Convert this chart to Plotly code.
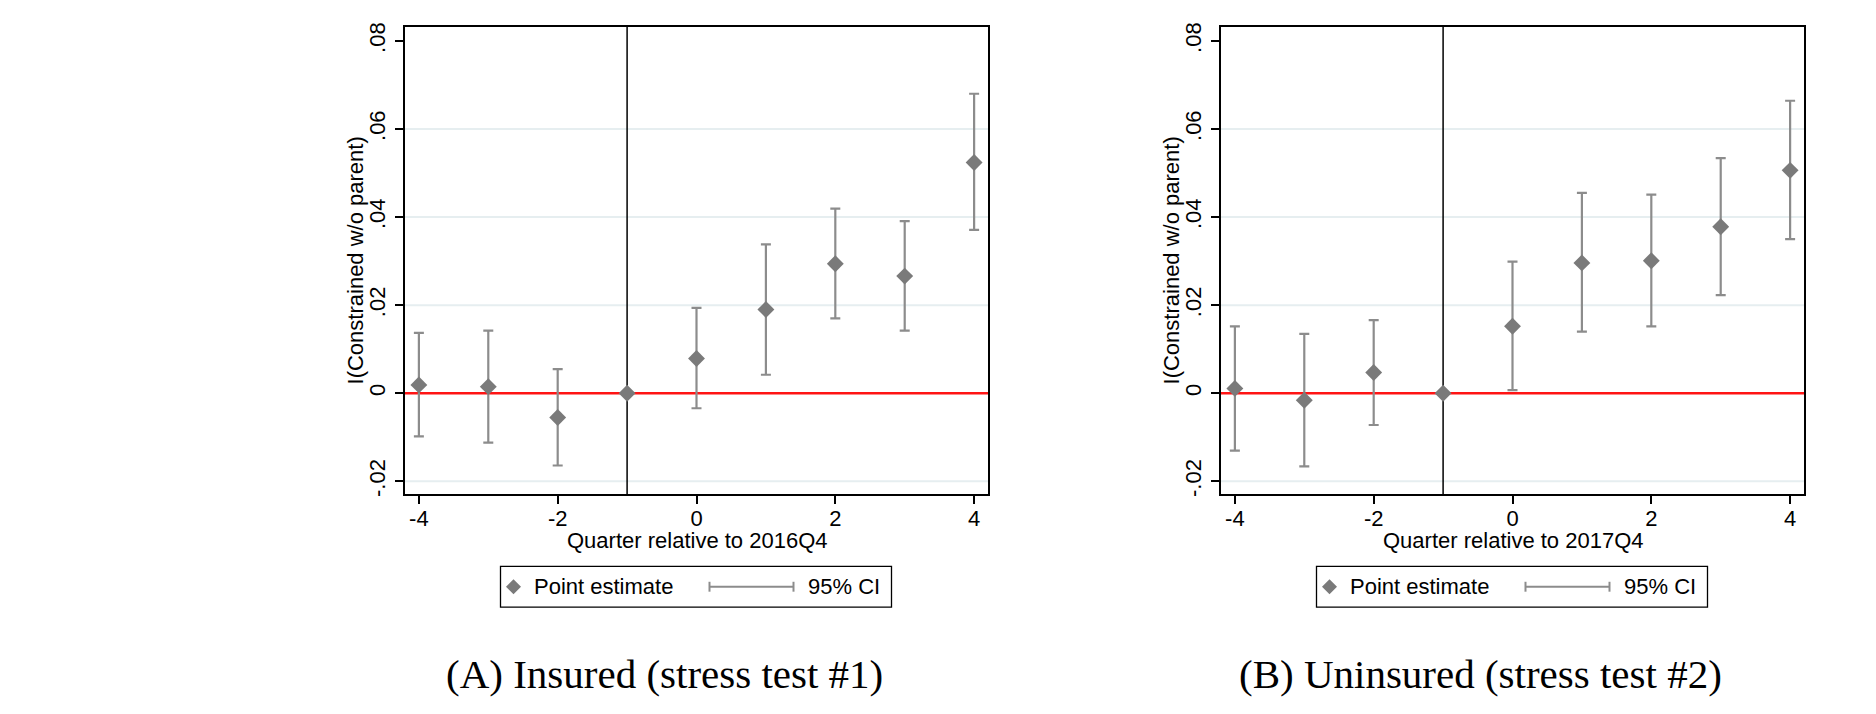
import plotly.graph_objects as go

# ---------------- data ----------------
quarters = [-4, -3, -2, -1, 0, 1, 2, 3, 4]

est_A = [0.0019, 0.0015, -0.0055, 0.0, 0.0079, 0.0190, 0.0294, 0.0266, 0.0524]
lo_A = [-0.0098, -0.0112, -0.0164, None, -0.0034, 0.0042, 0.0170, 0.0142, 0.0371]
hi_A = [0.0137, 0.0142, 0.0055, None, 0.0194, 0.0338, 0.0419, 0.0391, 0.0680]

est_B = [0.0011, -0.0016, 0.0047, 0.0, 0.0152, 0.0296, 0.0301, 0.0378, 0.0506]
lo_B = [-0.0130, -0.0166, -0.0072, None, 0.0007, 0.0140, 0.0152, 0.0223, 0.0350]
hi_B = [0.0152, 0.0135, 0.0166, None, 0.0299, 0.0455, 0.0451, 0.0534, 0.0664]

x_ticks = [-4, -2, 0, 2, 4]
x_tick_labels = ["-4", "-2", "0", "2", "4"]
y_ticks = [-0.02, 0, 0.02, 0.04, 0.06, 0.08]
y_tick_labels = ["-.02", "0", ".02", ".04", ".06", ".08"]
grid_vals = [-0.02, 0.02, 0.04, 0.06]

x_titles = ["Quarter relative to 2016Q4", "Quarter relative to 2017Q4"]
y_title = "I(Constrained w/o parent)"
captions = ["(A) Insured (stress test #1)", "(B) Uninsured (stress test #2)"]
legend_labels = ["Point estimate", "95% CI"]
event_quarter = -1

# ---------------- layout constants ----------------
W, H = 1876, 714
FONT = "Liberation Sans, Arial, sans-serif"
SERIF = "Liberation Serif, Times New Roman, serif"
FS = 22
MARK_COL = "#7a7a7a"
CI_COL = "#8c8c8c"
GRID_COL = "#e6eef0"


def px(x):
    return x / W


def py(y):
    return 1 - y / H


panel_left = [405, 1221]
panel_w = 583
top, bottom = 23, 495
xr = [-4.2, 4.2]
yr = [-0.0229, 0.0832]

fig = go.Figure()

series = [(est_A, lo_A, hi_A), (est_B, lo_B, hi_B)]
shapes = []
annotations = []

for i, (est, lo, hi) in enumerate(series):
    xa = "x" if i == 0 else "x2"
    ya = "y" if i == 0 else "y2"
    xdom = "x domain" if i == 0 else "x2 domain"
    ydom = "y domain" if i == 0 else "y2 domain"

    # gridlines
    for g in grid_vals:
        shapes.append(dict(type="line", xref=xdom, yref=ya,
                           x0=0, x1=1, y0=g, y1=g, layer="below",
                           line=dict(color=GRID_COL, width=2)))
    # red zero line
    shapes.append(dict(type="line", xref=xdom, yref=ya,
                       x0=0, x1=1, y0=0, y1=0, layer="below",
                       line=dict(color="#ff1414", width=2.5)))
    # vertical event line
    shapes.append(dict(type="line", xref=xa, yref=ydom,
                       x0=event_quarter, x1=event_quarter, y0=0, y1=1,
                       layer="below", line=dict(color="black", width=1.5)))

    # CI traces (only where CI exists)
    cx, cy, cp, cm = [], [], [], []
    for q, e, l, h in zip(quarters, est, lo, hi):
        if l is None or h is None:
            continue
        mid = (l + h) / 2
        cx.append(q)
        cy.append(mid)
        cp.append(h - mid)
        cm.append(mid - l)
    fig.add_trace(go.Scatter(
        x=cx, y=cy, mode="markers", xaxis=xa, yaxis=ya,
        marker=dict(size=1, color="rgba(0,0,0,0)"),
        error_y=dict(type="data", symmetric=False, array=cp, arrayminus=cm,
                     color=CI_COL, thickness=2.2, width=5),
        showlegend=False, hoverinfo="skip"))
    fig.add_trace(go.Scatter(
        x=quarters, y=est, mode="markers", xaxis=xa, yaxis=ya,
        marker=dict(symbol="diamond", size=13, color=MARK_COL,
                    line=dict(width=0)),
        showlegend=False))

    L = panel_left[i]
    cxp = L + panel_w / 2
    # axis titles
    annotations.append(dict(x=px(cxp), y=py(542), xref="paper", yref="paper",
                            text=x_titles[i], showarrow=False,
                            font=dict(family=FONT, size=FS, color="black"),
                            xanchor="center", yanchor="middle"))
    annotations.append(dict(x=px(L - 50), y=py((top + bottom) / 2),
                            xref="paper", yref="paper", text=y_title,
                            showarrow=False, textangle=-90,
                            font=dict(family=FONT, size=FS, color="black"),
                            xanchor="center", yanchor="middle"))
    # caption
    annotations.append(dict(x=px(L + 259), y=py(677), xref="paper",
                            yref="paper", text=captions[i], showarrow=False,
                            font=dict(family=SERIF, size=41, color="black"),
                            xanchor="center", yanchor="middle"))

    # legend box
    lb_l, lb_r = cxp - 196, cxp + 195
    lb_t, lb_b = 568, 609
    lb_c = (lb_t + lb_b) / 2
    shapes.append(dict(type="rect", xref="paper", yref="paper",
                       x0=px(lb_l), x1=px(lb_r), y0=py(lb_b), y1=py(lb_t),
                       line=dict(color="black", width=1.3),
                       fillcolor="rgba(0,0,0,0)", layer="above"))
    # diamond key
    dx = lb_l + 13
    d = 7.5
    path = (f"M {px(dx - d)} {py(lb_c)} L {px(dx)} {py(lb_c - d)} "
            f"L {px(dx + d)} {py(lb_c)} L {px(dx)} {py(lb_c + d)} Z")
    shapes.append(dict(type="path", xref="paper", yref="paper", path=path,
                       fillcolor=MARK_COL, line=dict(width=0), layer="above"))
    annotations.append(dict(x=px(lb_l + 31), y=py(lb_c), xref="paper",
                            yref="paper", text=legend_labels[0],
                            showarrow=False, xanchor="left", yanchor="middle",
                            font=dict(family=FONT, size=FS, color="black")))
    # CI key
    k0, k1 = lb_l + 209, lb_l + 293
    shapes.append(dict(type="line", xref="paper", yref="paper",
                       x0=px(k0), x1=px(k1), y0=py(lb_c), y1=py(lb_c),
                       line=dict(color=CI_COL, width=2), layer="above"))
    for kx in (k0, k1):
        shapes.append(dict(type="line", xref="paper", yref="paper",
                           x0=px(kx), x1=px(kx), y0=py(lb_c - 5),
                           y1=py(lb_c + 5),
                           line=dict(color=CI_COL, width=2), layer="above"))
    annotations.append(dict(x=px(lb_l + 305), y=py(lb_c), xref="paper",
                            yref="paper", text=legend_labels[1],
                            showarrow=False, xanchor="left", yanchor="middle",
                            font=dict(family=FONT, size=FS, color="black")))

axis_common_x = dict(range=xr, tickvals=x_ticks, ticktext=x_tick_labels,
                     ticks="outside", ticklen=8, ticklabelstandoff=-5,
                     tickwidth=1.5, tickcolor="black", showgrid=False,
                     zeroline=False, showline=True, mirror=True,
                     linecolor="black", linewidth=2,
                     tickfont=dict(family=FONT, size=FS, color="black"))
axis_common_y = dict(range=yr, tickvals=y_ticks, ticktext=y_tick_labels,
                     tickangle=-90, ticks="outside", ticklen=8, tickwidth=1.5,
                     tickcolor="black", showgrid=False, zeroline=False,
                     showline=True, mirror=True, linecolor="black",
                     linewidth=2, ticklabelstandoff=1,
                     tickfont=dict(family=FONT, size=FS, color="black"))

fig.update_layout(
    width=W, height=H, margin=dict(l=0, r=0, t=0, b=0),
    paper_bgcolor="white", plot_bgcolor="white", showlegend=False,
    xaxis=dict(domain=[px(panel_left[0]), px(panel_left[0] + panel_w)],
               anchor="y", **axis_common_x),
    yaxis=dict(domain=[py(bottom), py(top)], anchor="x", **axis_common_y),
    xaxis2=dict(domain=[px(panel_left[1]), px(panel_left[1] + panel_w)],
                anchor="y2", **axis_common_x),
    yaxis2=dict(domain=[py(bottom), py(top)], anchor="x2", **axis_common_y),
    shapes=shapes, annotations=annotations,
)

fig.write_html("out.html")
